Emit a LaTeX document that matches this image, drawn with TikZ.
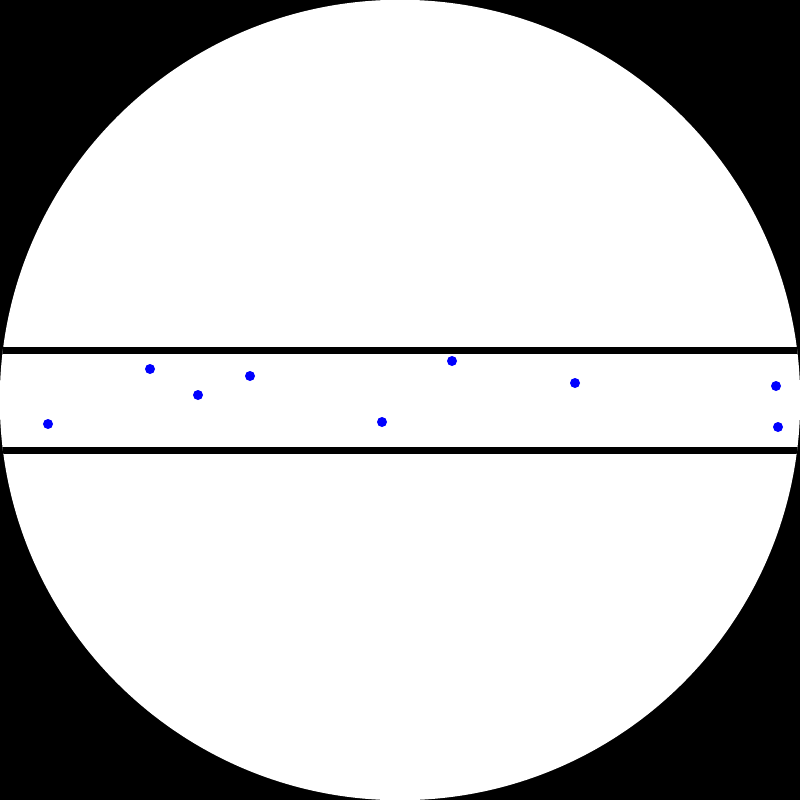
\documentclass[tikz,border=0pt]{standalone}
\begin{document}
\begin{tikzpicture}[x=0.01cm,y=-0.01cm,
  dot/.style={circle, fill=blue, inner sep=0pt, minimum size=0.1cm}]
\fill[black] (0,0) rectangle (800,800);
\useasboundingbox (0,0) rectangle (800,800);
\fill[white] (400,400) circle[radius=4cm];
\begin{scope}
\clip (400,400) circle[radius=4cm];
\draw[line width=0.07cm] (0,350) -- (800,350);
\draw[line width=0.07cm] (0,450) -- (800,450);
\end{scope}
\node[dot] (d1) at (48,424) {};
\node[dot] (d2) at (150,369) {};
\node[dot] (d3) at (198,395) {};
\node[dot] (d4) at (250,376) {};
\node[dot] (d5) at (382,422) {};
\node[dot] (d6) at (452,361) {};
\node[dot] (d7) at (575,383) {};
\node[dot] (d8) at (776,386) {};
\node[dot] (d9) at (778,427) {};
\end{tikzpicture}
\end{document}
